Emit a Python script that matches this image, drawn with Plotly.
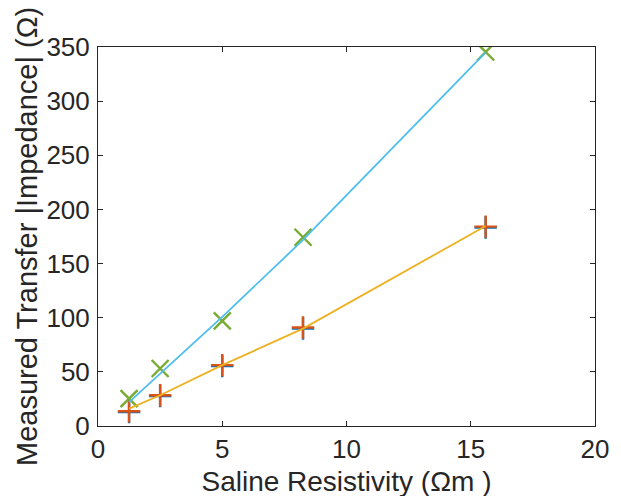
import plotly.graph_objects as go

resistivity = [1.25, 2.5, 5.0, 8.25, 15.6]
meas_x_cross = [25.3, 53.1, 97.1, 174.3, 345.4]
meas_plus_a = [13.6, 28.4, 56.2, 91.0, 184.1]
meas_plus_b = [12.8, 27.6, 55.3, 90.1, 183.3]
model_high = [22.0, 48.5, 100.8, 171.8, 345.0]
model_low = [16.0, 28.4, 56.2, 89.9, 184.7]

x_ticks = [0, 5, 10, 15, 20]
y_ticks = [0, 50, 100, 150, 200, 250, 300, 350]

FONT = "Liberation Sans, Arial"
INK = "#262626"

fig = go.Figure()
fig.add_trace(go.Scatter(x=resistivity, y=meas_plus_b, mode="markers",
                         marker=dict(symbol="cross-thin", size=16, line=dict(width=2.4, color="#0072BD")),
                         showlegend=False))
fig.add_trace(go.Scatter(x=resistivity, y=meas_plus_a, mode="markers",
                         marker=dict(symbol="cross-thin", size=16, line=dict(width=2.4, color="#D95319")),
                         showlegend=False))
fig.add_trace(go.Scatter(x=resistivity, y=meas_x_cross, mode="markers",
                         marker=dict(symbol="x-thin", size=17, line=dict(width=2.4, color="#77AC30")),
                         showlegend=False))
fig.add_trace(go.Scatter(x=resistivity, y=model_high, mode="lines",
                         line=dict(color="#4DBEEE", width=1.8), showlegend=False))
fig.add_trace(go.Scatter(x=resistivity, y=model_low, mode="lines",
                         line=dict(color="#EDB120", width=1.8), showlegend=False))

axis_common = dict(showline=True, linecolor=INK, linewidth=1, mirror="ticks",
                   ticks="inside", ticklen=5, tickcolor=INK, showgrid=False,
                   zeroline=False, automargin=False,
                   tickfont=dict(family=FONT, size=26, color=INK))
fig.update_xaxes(range=[0, 20], tickvals=x_ticks, **axis_common,
                 title=dict(text="Saline Resistivity (Ωm )", font=dict(family=FONT, size=28, color=INK), standoff=8))
fig.update_yaxes(range=[0, 350], tickvals=y_ticks, **axis_common, ticklabelstandoff=2,
                 title=dict(text="Measured Transfer |Impedance| (Ω)", font=dict(family=FONT, size=29, color=INK), standoff=0))
fig.update_layout(width=621, height=496, margin=dict(l=90, r=34, t=39, b=78),
                  plot_bgcolor="white", paper_bgcolor="white")
fig.write_html("out.html")
